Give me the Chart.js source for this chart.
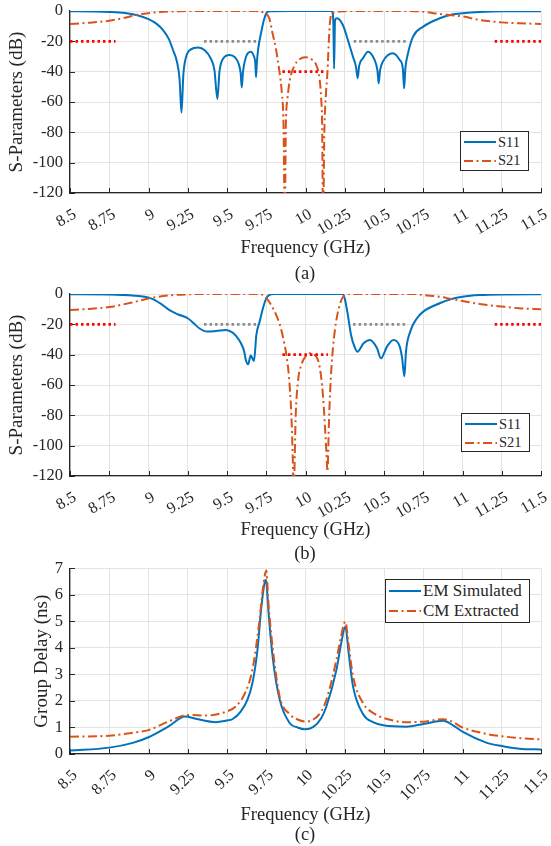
<!DOCTYPE html>
<html>
<head>
<meta charset="utf-8">
<script src="https://cdn.jsdelivr.net/npm/chart.js@4.4.1/dist/chart.umd.min.js"></script>
<style>
  body { margin: 0; background: #fff; }
  #fig { position: relative; width: 551px; height: 846px; font-family: "Liberation Serif", "Times New Roman", serif; color: #262626; }
  #fig canvas { position: absolute; left: 0; }
  .cap { position: absolute; left: 205px; width: 200px; text-align: center; font-size: 18.5px; line-height: 22px; }
  .lg { position: absolute; border: 1px solid #262626; background: #fff; box-sizing: border-box; }
  .lg div { display: flex; align-items: center; white-space: nowrap; }
  .lg svg { margin-left: 3px; margin-right: 2px; }
</style>
</head>
<body>
<div id="fig">
  <canvas id="chartA" width="551" height="259" style="top:0px"></canvas>
  <canvas id="chartB" width="551" height="261" style="top:280px"></canvas>
  <canvas id="chartC" width="551" height="270" style="top:556px"></canvas>

  <div class="cap" style="top:262px">(a)</div>
  <div class="cap" style="top:542px">(b)</div>
  <div class="cap" style="top:823px">(c)</div>

  <div class="lg" style="left:460px;top:131px;width:69px;height:40px;font-size:14.5px;padding-top:1px">
    <div style="height:18.5px"><svg width="32" height="4"><line x1="0" y1="2" x2="32" y2="2" stroke="#0072BD" stroke-width="2"/></svg>S11</div>
    <div style="height:18.5px"><svg width="32" height="4"><line x1="0" y1="2" x2="32" y2="2" stroke="#D95319" stroke-width="2" stroke-dasharray="9 3.5 2 3.5"/></svg>S21</div>
  </div>
  <div class="lg" style="left:461px;top:413px;width:69px;height:39px;font-size:14.5px;padding-top:1px">
    <div style="height:18.5px"><svg width="32" height="4"><line x1="0" y1="2" x2="32" y2="2" stroke="#0072BD" stroke-width="2"/></svg>S11</div>
    <div style="height:18.5px"><svg width="32" height="4"><line x1="0" y1="2" x2="32" y2="2" stroke="#D95319" stroke-width="2" stroke-dasharray="9 3.5 2 3.5"/></svg>S21</div>
  </div>
  <div class="lg" style="left:385px;top:579px;width:145px;height:44px;font-size:17px;padding-top:1px">
    <div style="height:20px"><svg width="32" height="4"><line x1="0" y1="2" x2="32" y2="2" stroke="#0072BD" stroke-width="2"/></svg>EM Simulated</div>
    <div style="height:20px"><svg width="32" height="4"><line x1="0" y1="2" x2="32" y2="2" stroke="#D95319" stroke-width="2" stroke-dasharray="9 3.5 2 3.5"/></svg>CM Extracted</div>
  </div>
</div>

<script>
// axis ticks
const freqTicks = [8.5, 8.75, 9, 9.25, 9.5, 9.75, 10, 10.25, 10.5, 10.75, 11, 11.25, 11.5];
const freqLabels = ['8.5', '8.75', '9', '9.25', '9.5', '9.75', '10', '10.25', '10.5', '10.75', '11', '11.25', '11.5'];
const dbTicks = [-120, -100, -80, -60, -40, -20, 0];
const delayTicks = [0, 1, 2, 3, 4, 5, 6, 7];

// (a) S-parameters
const s11aFreq = [8.5, 8.65, 8.75, 8.85, 8.923, 9.0, 9.05, 9.092, 9.13, 9.156, 9.18, 9.198, 9.21, 9.222, 9.24, 9.27, 9.315, 9.36, 9.395, 9.42, 9.439, 9.452, 9.475, 9.517, 9.55, 9.575, 9.587, 9.594, 9.602, 9.62, 9.651, 9.67, 9.68, 9.685, 9.69, 9.7, 9.72, 9.735, 9.75, 9.77, 9.9, 10.1, 10.165, 10.172, 10.178, 10.182, 10.188, 10.2, 10.238, 10.27, 10.302, 10.322, 10.332, 10.342, 10.366, 10.398, 10.44, 10.458, 10.466, 10.475, 10.493, 10.557, 10.6, 10.62, 10.628, 10.636, 10.653, 10.685, 10.75, 10.855, 10.94, 11.0, 11.11, 11.25, 11.5];
const s11aDb = [-0.1, -0.3, -0.6, -1.3, -2.6, -5.3, -8.3, -12.5, -18.5, -25.7, -33, -45, -67, -42, -30, -25.3, -24, -26, -31, -39, -58, -40, -31.5, -29, -30.5, -35, -41, -50.4, -40, -30.5, -26.8, -29.5, -34, -43.6, -34, -24, -13, -6, -1.5, -0.2, 0, 0, 0, -1, -10, -38, -6, -4.8, -9.2, -19.1, -30.1, -37, -44.3, -36, -31.2, -26.8, -32.3, -39, -47.7, -39, -33.4, -27.9, -32.3, -38, -51, -38, -27.9, -16.9, -10.3, -4.8, -2.2, -1.5, -0.7, -0.2, -0.1];
const s21aFreq = [8.5, 8.6, 8.75, 8.85, 8.92, 9.0, 9.1, 9.2, 9.3, 9.5, 9.68, 9.71, 9.73, 9.75, 9.77, 9.79, 9.81, 9.834, 9.85, 9.86, 9.868, 9.875, 9.885, 9.9, 9.93, 9.96, 10.0, 10.04, 10.07, 10.09, 10.1, 10.106, 10.112, 10.12, 10.13, 10.14, 10.15, 10.16, 10.18, 10.22, 10.3, 10.6, 10.7, 10.75, 10.855, 10.93, 11.0, 11.11, 11.25, 11.36, 11.5];
const s21aDb = [-8.6, -7.9, -6.4, -4.5, -2.6, -1.4, -0.5, -0.1, 0, 0, 0, -0.3, -0.9, -2, -5, -14.7, -24, -40, -55, -75, -140, -75, -58, -45.5, -36, -32, -30.5, -32, -36, -45, -58, -75, -140, -80, -55, -40, -17, -4, -1, -0.3, 0, 0, -0.1, -0.4, -2, -2.8, -3.6, -5.9, -7.5, -8.1, -8.5];
const redMaskA = [[8.5, 8.79, -20], [9.853, 10.133, -40], [11.205, 11.5, -20]];
const grayMaskA = [[9.354, 9.698, -20], [10.307, 10.647, -20]];

// (b) S-parameters
const s11bFreq = [8.5, 8.75, 8.9, 9.015, 9.08, 9.131, 9.19, 9.25, 9.29, 9.323, 9.376, 9.43, 9.494, 9.536, 9.56, 9.589, 9.61, 9.62, 9.634, 9.651, 9.662, 9.672, 9.687, 9.708, 9.729, 9.75, 9.78, 9.8, 10.0, 10.235, 10.25, 10.27, 10.29, 10.315, 10.33, 10.37, 10.41, 10.455, 10.48, 10.52, 10.56, 10.6, 10.615, 10.63, 10.64, 10.667, 10.71, 10.75, 10.855, 10.93, 11.0, 11.11, 11.25, 11.5];
const s11bDb = [-0.2, -0.3, -1.0, -2.9, -6.5, -10.5, -13.5, -16, -19.5, -22.6, -24.8, -24.4, -23.7, -25.5, -28, -32.5, -38, -43.5, -46.4, -40.6, -42.5, -44.2, -27, -18.2, -9.4, -2.9, -0.2, 0, 0, 0, -2.9, -13.9, -27, -35.6, -38, -32.5, -30.3, -35.6, -42.4, -34.5, -30.3, -34.5, -42, -54.3, -38, -24.8, -16, -11.6, -6.1, -3.3, -1.8, -0.7, -0.3, -0.2];
const s21bFreq = [8.5, 8.6, 8.75, 8.9, 9.0, 9.125, 9.25, 9.35, 9.7, 9.73, 9.75, 9.78, 9.81, 9.836, 9.86, 9.878, 9.895, 9.91, 9.918, 9.925, 9.932, 9.937, 9.952, 9.973, 10.005, 10.026, 10.048, 10.069, 10.09, 10.111, 10.133, 10.14, 10.15, 10.165, 10.186, 10.218, 10.25, 10.28, 10.7, 10.75, 10.855, 10.93, 11.0, 11.11, 11.25, 11.36, 11.5];
const s21bDb = [-10.5, -10, -8.6, -5.5, -2.9, -1, -0.2, 0, 0, -0.6, -2.5, -7, -13, -20, -30, -40, -55, -80, -105, -135, -105, -82, -57.8, -46.8, -40.6, -39.1, -39.8, -41.3, -47.9, -66.6, -104, -117, -82, -49, -24.8, -7.2, -0.7, 0, 0, -0.7, -1.8, -3.3, -4.6, -6.6, -8.3, -9.4, -10];
const redMaskB = [[8.5, 8.79, -20], [9.853, 10.143, -40], [11.205, 11.5, -20]];
const grayMaskB = [[9.354, 9.704, -20], [10.303, 10.649, -20]];

// (c) group delay
const emFreq = [8.5, 8.75, 8.9, 9.0, 9.125, 9.233, 9.3, 9.43, 9.497, 9.534, 9.587, 9.63, 9.662, 9.694, 9.715, 9.732, 9.745, 9.752, 9.765, 9.793, 9.836, 9.9, 9.95, 9.995, 10.05, 10.1, 10.133, 10.197, 10.225, 10.254, 10.275, 10.303, 10.367, 10.43, 10.503, 10.643, 10.751, 10.877, 10.94, 11.0, 11.151, 11.249, 11.363, 11.5];
const emNs = [0.13, 0.24, 0.42, 0.63, 1.03, 1.41, 1.33, 1.2, 1.26, 1.31, 1.6, 2.04, 2.67, 3.92, 5.31, 6.19, 6.57, 6.4, 5.3, 3.55, 2.04, 1.16, 1.0, 0.93, 1.02, 1.35, 1.79, 3.17, 4.1, 4.8, 3.8, 2.54, 1.5, 1.2, 1.07, 1.03, 1.13, 1.25, 1.08, 0.84, 0.43, 0.3, 0.2, 0.17];
const cmFreq = [8.5, 8.75, 8.9, 9.0, 9.125, 9.25, 9.372, 9.497, 9.556, 9.62, 9.662, 9.705, 9.73, 9.75, 9.765, 9.793, 9.836, 9.9, 9.95, 10.0, 10.05, 10.1, 10.133, 10.197, 10.225, 10.254, 10.275, 10.303, 10.367, 10.43, 10.503, 10.643, 10.751, 10.877, 10.94, 11.0, 11.151, 11.249, 11.363, 11.5];
const cmNs = [0.65, 0.69, 0.8, 0.9, 1.22, 1.47, 1.45, 1.6, 1.79, 2.36, 3.18, 4.94, 6.3, 6.92, 5.6, 3.9, 2.15, 1.5, 1.3, 1.22, 1.3, 1.6, 2.04, 3.55, 4.4, 4.99, 4.1, 2.92, 1.91, 1.55, 1.35, 1.2, 1.22, 1.31, 1.2, 1.0, 0.76, 0.67, 0.6, 0.55];

const BLUE = '#0072BD', ORANGE = '#D95319', RED = '#FF0000', GRAY = '#8C8C8C';
const AXIS = '#262626', GRID = '#e3e3e3';
const FONT = "'Liberation Serif', 'Times New Roman', serif";

Chart.defaults.font.family = FONT;
Chart.defaults.color = AXIS;

function pts(xs, ys) {
  return xs.map((x, i) => ({x: x, y: ys[i]}));
}

function maskSet(m, color) {
  return {
    data: [{x: m[0], y: m[2]}, {x: m[1], y: m[2]}],
    borderColor: color, borderWidth: 2.8, borderDash: [2.5, 3], borderCapStyle: 'butt',
    order: 0
  };
}

// MATLAB style ticks pointing into the axes
const innerTicks = {
  id: 'innerTicks',
  beforeDatasetsDraw(chart) {
    const {ctx, chartArea: a, scales: {x, y}} = chart;
    ctx.save();
    ctx.strokeStyle = AXIS;
    ctx.lineWidth = 1;
    x.ticks.forEach(t => {
      const px = Math.round(x.getPixelForValue(t.value)) + 0.5;
      ctx.beginPath(); ctx.moveTo(px, a.bottom); ctx.lineTo(px, a.bottom - 5); ctx.stroke();
    });
    y.ticks.forEach(t => {
      const py = Math.round(y.getPixelForValue(t.value)) + 0.5;
      ctx.beginPath(); ctx.moveTo(a.left, py); ctx.lineTo(a.left + 5, py); ctx.stroke();
    });
    ctx.restore();
  }
};

function makeChart(id, datasets, o) {
  new Chart(document.getElementById(id), {
    type: 'line',
    data: {datasets: datasets},
    plugins: [innerTicks],
    options: {
      responsive: false,
      animation: false,
      devicePixelRatio: 1,
      layout: {padding: {top: o.padTop, right: 10, left: 0, bottom: 0}},
      plugins: {legend: {display: false}, tooltip: {enabled: false}},
      elements: {
        point: {radius: 0},
        line: {borderWidth: 2, cubicInterpolationMode: 'monotone'}
      },
      scales: {
        x: {
          type: 'linear', min: 8.5, max: 11.5,
          afterBuildTicks: s => { s.ticks = freqTicks.map(v => ({value: v})); },
          afterFit: s => { s.height = o.xHeight; s.paddingLeft = 0; s.paddingRight = 0; },
          ticks: {
            autoSkip: false, minRotation: o.rot, maxRotation: o.rot,
            padding: o.xPad, labelOffset: 5, color: AXIS,
            font: {family: FONT, size: 16},
            callback: v => freqLabels[freqTicks.indexOf(v)]
          },
          grid: {color: GRID, drawTicks: false},
          border: {color: AXIS, width: 1.3},
          title: {display: true, text: 'Frequency (GHz)', color: AXIS,
                  font: {family: FONT, size: 18.5}, padding: {top: 0, bottom: 0}}
        },
        y: {
          type: 'linear', min: o.yMin, max: o.yMax,
          afterBuildTicks: s => { s.ticks = o.yTicks.map(v => ({value: v})); },
          afterFit: s => { s.width = 70; s.paddingTop = 0; s.paddingBottom = 0; },
          ticks: {padding: 7, color: AXIS, font: {family: FONT, size: 16.5}},
          grid: {color: GRID, drawTicks: false},
          border: {color: AXIS, width: 1.3},
          title: {display: true, text: o.yTitle, color: AXIS,
                  font: {family: FONT, size: 19}, padding: {top: o.yTitlePad, bottom: 0}}
        }
      }
    }
  });
}

function sparSets(s11f, s11, s21f, s21, redMask, grayMask) {
  const sets = [];
  redMask.forEach(m => sets.push(maskSet(m, RED)));
  grayMask.forEach(m => sets.push(maskSet(m, GRAY)));
  sets.push({label: 'S21', data: pts(s21f, s21), borderColor: ORANGE,
             borderDash: [9, 3.5, 2, 3.5], order: 1});
  sets.push({label: 'S11', data: pts(s11f, s11), borderColor: BLUE, order: 2});
  return sets;
}

makeChart('chartA', sparSets(s11aFreq, s11aDb, s21aFreq, s21aDb, redMaskA, grayMaskA),
  {padTop: 11, xHeight: 66, rot: 30, xPad: 12, yMin: -120, yMax: 0, yTicks: dbTicks,
   yTitle: 'S-Parameters (dB)', yTitlePad: 6});

makeChart('chartB', sparSets(s11bFreq, s11bDb, s21bFreq, s21bDb, redMaskB, grayMaskB),
  {padTop: 14, xHeight: 65, rot: 30, xPad: 12, yMin: -120, yMax: 0, yTicks: dbTicks,
   yTitle: 'S-Parameters (dB)', yTitlePad: 6});

makeChart('chartC', [
    {label: 'CM Extracted', data: pts(cmFreq, cmNs), borderColor: ORANGE,
     borderDash: [9, 3.5, 2, 3.5], order: 1},
    {label: 'EM Simulated', data: pts(emFreq, emNs), borderColor: BLUE, order: 2}
  ],
  {padTop: 12.3, xHeight: 72, rot: 45, xPad: 12, yMin: 0, yMax: 7, yTicks: delayTicks,
   yTitle: 'Group Delay (ns)', yTitlePad: 31});
</script>
</body>
</html>
